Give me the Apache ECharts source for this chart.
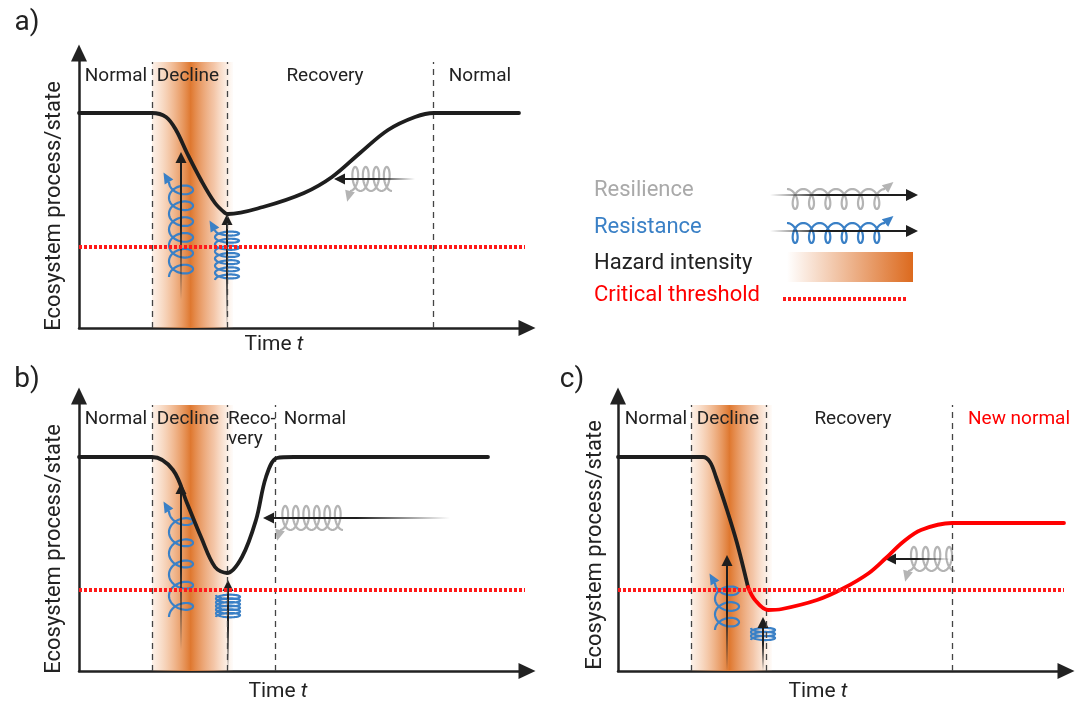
<!DOCTYPE html>
<html><head><meta charset="utf-8">
<script src="https://cdn.jsdelivr.net/npm/echarts@6/dist/echarts.min.js"></script>
<style>html,body{margin:0;padding:0;background:#fff;}#chart{width:1078px;height:702px;}</style>
</head><body><div id="chart"></div>
<script>
// ---------------- data (arbitrary units: time t along x, ecosystem state along y) ----------------
const timeMax = 448, stateMax = 275;

const curveA = [[0,215],[73,215],[87,211],[97,198],[108,175],[122,148],[136,125],[146,115],[149,114],[184,121],[225,135],[253,151],[281,175],[309,198],[336,211],[355,215],[440,215]];
const curveB = [[0,214],[73,214],[94,201],[108,168],[122,134],[136,104],[148,98],[163,114],[177,151],[187,194],[198,213],[215,214],[409,214]];
const curveCDecline = [[0,214],[73,214],[85,214],[92,209],[98,194],[109,161],[119,128],[130,84]];
const curveCNewNormal = [[130,84],[137,71],[150,61],[164,62],[199,71],[226,83],[251,98],[268,113],[285,129],[303,141],[334,148],[446,148]];

const thresholdA = [[0,81],[446,81]];
const thresholdB = [[0,81],[446,81]];
const thresholdC = [[0,81],[446,81]];

const boundsA = [73,148,354];
const boundsB = [73,148,196];
const boundsC = [73,148,334];
const hazard = [73,112,154];      // start, peak, end of hazard
const phaseTop = 266;

const phaseNamesA = ['Normal','Decline','Recovery','Normal'];
const phasePosA   = [37,109,246,401];
const phaseNamesB = ['Normal','Decline','Reco-\nvery','Normal'];
const phasePosB   = [37,109,149,236];
const phaseNamesC = ['Normal','Decline','Recovery','New normal'];
const phasePosC   = [38,110,235,401];
const phaseLabelY = 262;

// springs: [fromT, fromState, toT, toState, loops]
const resistA = [[102,51,102,146,6],[148,48,148,98,7]];
const resilA  = [[313,149,271,149,4]];
const resistB = [[102,54,102,160,5],[149,54,149,76,6]];
const resilB  = [[264,153,201,153,6]];
const resistC = [[109,41,109,88,3],[145,31,145,43,3]];
const resilC  = [[337,112,290,112,4]];
// forcing arrows: [baseT, baseState, tipT, tipState]
const arrowsA = [[102,28,102,176],[148,0,148,114],[336,149,255,149]];
const arrowsB = [[102,21,102,188],[149,0,149,91],[371,153,184,153]];
const arrowsC = [[109,0,109,116],[145,0,145,54],[332,112,267,112]];

// ---------------- drawing helpers ----------------
const FONT = 'Roboto';
const DARK = '#1e1e1e';
const BLUE = '#3a80c6';
const GREY = '#b4b4b4';

function coilPts(a, b, loops, R, eMax) {
  const dx = b[0]-a[0], dy = b[1]-a[1], L = Math.hypot(dx,dy);
  const ux = dx/L, uy = dy/L, nx = -uy, ny = ux;
  const pitch = L/loops;
  const e = Math.max(3, Math.min(eMax, pitch*0.5));
  const N = Math.max(80, Math.round(loops*48));
  const pts = [];
  for (let i=0;i<=N;i++){
    const s = i/N, th = -Math.PI/2 + 2*Math.PI*loops*s;
    const bx = a[0]+dx*s, by = a[1]+dy*s;
    pts.push([bx + nx*R*Math.sin(th) + ux*e*Math.cos(th), by + ny*R*Math.sin(th) + uy*e*Math.cos(th)]);
  }
  return {pts, ux, uy, nx, ny, pitch};
}
function coilGroup(a, b, loops, R, e, angDeg, color, lw) {
  const c = coilPts(a,b,loops,R,e);
  const children = [{type:'polyline', shape:{points:c.pts}, style:{stroke:color, lineWidth:lw||2.2, fill:null}}];
  if (c.pitch >= 6) {
    const P = c.pts[c.pts.length-1];
    const an = angDeg*Math.PI/180;
    const dxh = c.ux*Math.cos(an) + c.nx*Math.sin(an), dyh = c.uy*Math.cos(an) + c.ny*Math.sin(an);
    const Lh = 11, Wh = 10;
    const tip = [P[0]+dxh*Lh, P[1]+dyh*Lh];
    children.push({type:'polygon', shape:{points:[tip, [P[0]-dyh*Wh/2, P[1]+dxh*Wh/2], [P[0]+dyh*Wh/2, P[1]-dxh*Wh/2]]}, style:{fill:color}});
  }
  return {type:'group', children};
}
function arrowGroup(a, b, color, Lh, Wh, fadeTo) {
  const dx=b[0]-a[0], dy=b[1]-a[1], L=Math.hypot(dx,dy), ux=dx/L, uy=dy/L;
  const end = [b[0]-ux*(Lh-2), b[1]-uy*(Lh-2)];
  const base = [b[0]-ux*Lh, b[1]-uy*Lh];
  return {type:'group', children:[
    {type:'line', shape:{x1:a[0],y1:a[1],x2:end[0],y2:end[1]},
      style:{lineWidth:2, stroke:{type:'linear', global:true, x:a[0], y:a[1], x2:b[0], y2:b[1],
        colorStops:[{offset:0,color:'rgba(30,30,30,0)'},{offset:fadeTo,color:color},{offset:1,color:color}]}}},
    {type:'polygon', shape:{points:[[b[0],b[1]],[base[0]-uy*Wh/2, base[1]+ux*Wh/2],[base[0]+uy*Wh/2, base[1]-ux*Wh/2]]}, style:{fill:color}}
  ]};
}
function coilRenderer(color, R, e, ang) {
  return function(params, api){
    const a = api.coord([api.value(0), api.value(1)]);
    const b = api.coord([api.value(2), api.value(3)]);
    return coilGroup(a, b, api.value(4), R, e, ang, color);
  };
}
function arrowRenderer(params, api){
  const a = api.coord([api.value(0), api.value(1)]);
  const b = api.coord([api.value(2), api.value(3)]);
  return arrowGroup(a, b, DARK, 11, 11, 0.5);
}
function labelRenderer(names){
  return function(params, api){
    const p = api.coord([api.value(0), api.value(1)]);
    const name = names[params.dataIndex];
    const multi = name.indexOf('\n') >= 0;
    return {type:'text', x:p[0], y:p[1], style:{text:name, fill: name==='New normal' ? '#ff0000' : '#222',
      font:'19px '+FONT, align: multi ? 'left' : 'center', verticalAlign:'top', lineHeight:20}};
  };
}

const gradLeft = {type:'linear', x:0, y:0, x2:1, y2:0, colorStops:[
  {offset:0, color:'rgba(242,180,135,0.18)'},{offset:0.5,color:'rgba(234,150,90,0.6)'},{offset:1, color:'rgba(222,118,45,1)'}]};
const gradRight = {type:'linear', x:0, y:0, x2:1, y2:0, colorStops:[
  {offset:0, color:'rgba(224,122,50,1)'},{offset:0.55,color:'rgba(236,160,110,0.6)'},{offset:1, color:'rgba(245,190,150,0.05)'}]};

const panels = [
  {curves:[{data:curveA,color:DARK}], threshold:thresholdA, bounds:boundsA, names:phaseNamesA, pos:phasePosA, resist:resistA, resil:resilA, arrows:arrowsA},
  {curves:[{data:curveB,color:DARK}], threshold:thresholdB, bounds:boundsB, names:phaseNamesB, pos:phasePosB, resist:resistB, resil:resilB, arrows:arrowsB},
  {curves:[{data:curveCDecline,color:DARK},{data:curveCNewNormal,color:'#ff0000'}], threshold:thresholdC, bounds:boundsC, names:phaseNamesC, pos:phasePosC, resist:resistC, resil:resilC, arrows:arrowsC}
];

const grids = [
  {left:79, top:53, width:448, height:275},
  {left:79, top:396, width:448, height:275},
  {left:618, top:396, width:448, height:275}
];

const xAxes = [], yAxes = [], series = [];
panels.forEach((p,i)=>{
  const axLine = {show:true, symbol:['none','triangle'], symbolSize:[16,17], lineStyle:{color:'#222', width:2.5}};
  xAxes.push({gridIndex:i, type:'value', min:0, max:timeMax, axisLine:axLine, axisTick:{show:false}, axisLabel:{show:false}, splitLine:{show:false}});
  yAxes.push({gridIndex:i, type:'value', min:0, max:stateMax, axisLine:axLine, axisTick:{show:false}, axisLabel:{show:false}, splitLine:{show:false}});
  const ax = {xAxisIndex:i, yAxisIndex:i};
  series.push(Object.assign({type:'line', data:[], z:1, silent:true,
    markArea:{silent:true, label:{show:false}, data:[
      [{coord:[hazard[0],0], itemStyle:{color:gradLeft}},{coord:[hazard[1],phaseTop]}],
      [{coord:[hazard[1],0], itemStyle:{color:gradRight}},{coord:[hazard[2],phaseTop]}]
    ]}}, ax));
  series.push(Object.assign({type:'line', data:[], z:2, silent:true,
    markLine:{silent:true, symbol:['none','none'], label:{show:false}, lineStyle:{type:[6,5], color:'#444', width:1.3},
      data:p.bounds.map(b=>[{coord:[b,0]},{coord:[b,phaseTop]}])}}, ax));
  series.push(Object.assign({type:'custom', z:3, clip:false, silent:true, renderItem:coilRenderer(GREY,12,5.5,-75), data:p.resil}, ax));
  series.push(Object.assign({type:'custom', z:3, clip:false, silent:true, renderItem:coilRenderer(BLUE,12,8,-30), data:p.resist}, ax));
  series.push(Object.assign({type:'custom', z:4, clip:false, silent:true, renderItem:arrowRenderer, data:p.arrows}, ax));
  p.curves.forEach(c=>series.push(Object.assign({type:'line', data:c.data, smooth:0.35, symbol:'none', z:5, silent:true,
    lineStyle:{width:3.8, color:c.color, cap:'round'}}, ax)));
  series.push(Object.assign({type:'line', data:p.threshold, symbol:'none', z:6, silent:true,
    lineStyle:{width:4, color:'#ff1a1a', type:[3,2]}}, ax));
  series.push(Object.assign({type:'custom', z:7, clip:false, silent:true, renderItem:labelRenderer(p.names),
    data:p.pos.map(t=>[t,phaseLabelY])}, ax));
});

// ---------------- legend & text ----------------
const txt = (x,y,text,size,color,extra)=>Object.assign({type:'text', x, y, silent:true,
  style:Object.assign({text, fill:color||'#222', font:size+'px '+FONT, align:'center', verticalAlign:'middle'}, (extra&&extra.style)||{})},
  extra&&extra.rot ? {rotation:extra.rot} : {});
const richTime = (x,y)=>({type:'text', x, y, silent:true, style:{text:'Time {i|t}', fill:'#222', font:'21px '+FONT, align:'center', verticalAlign:'middle',
  rich:{i:{fontStyle:'italic', fontSize:21, fontFamily:FONT, fill:'#222'}}}});

const graphic = [
  txt(27,23,'a)',28), txt(27,380,'b)',28), txt(572,380,'c)',28),
  txt(54,206,'Ecosystem process/state',22,'#222',{rot:Math.PI/2}),
  txt(54,549,'Ecosystem process/state',22,'#222',{rot:Math.PI/2}),
  txt(595,545,'Ecosystem process/state',22,'#222',{rot:Math.PI/2}),
  richTime(274,345), richTime(278,692), richTime(818,692),
  txt(594,190,'Resilience',22,'#a9a9a9',{style:{align:'left'}}),
  txt(594,227,'Resistance',22,BLUE,{style:{align:'left'}}),
  txt(594,263,'Hazard intensity',22,'#222',{style:{align:'left'}}),
  txt(594,295,'Critical threshold',22,'#ff0000',{style:{align:'left'}}),
  coilGroup([787,199],[885,199],6,10,6,-40,GREY),
  arrowGroup([770,195],[918,195],DARK,12,12,0.35),
  coilGroup([787,233],[885,233],6,10,6,-40,BLUE),
  arrowGroup([770,231],[918,231],DARK,12,12,0.35),
  {type:'rect', silent:true, shape:{x:787,y:252,width:126,height:30}, style:{fill:{type:'linear',x:0,y:0,x2:1,y2:0,
    colorStops:[{offset:0,color:'rgba(255,255,255,1)'},{offset:1,color:'#dc6a1e'}]}}},
  {type:'line', silent:true, shape:{x1:783,y1:299,x2:908,y2:299}, style:{stroke:'#ff1a1a', lineWidth:4, lineDash:[3,2]}}
];

const chart = echarts.init(document.getElementById('chart'), null, {renderer:'canvas'});
chart.setOption({animation:false, backgroundColor:'#fff', grid:grids, xAxis:xAxes, yAxis:yAxes, series, graphic});
</script></body></html>
